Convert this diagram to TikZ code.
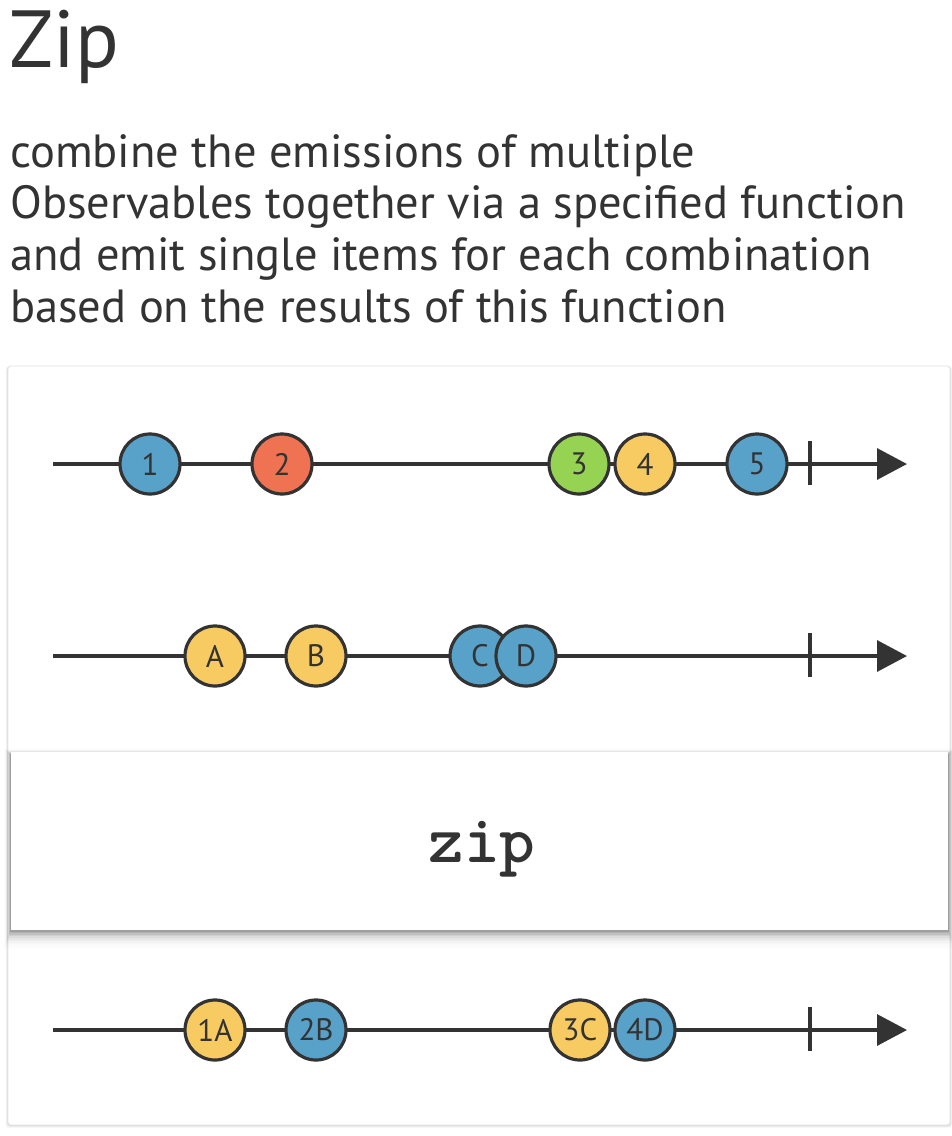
\documentclass[tikz,border=0pt]{standalone}
\usepackage{fontspec}
\setmainfont{PT Sans}
\usetikzlibrary{arrows.meta}
\definecolor{ink}{HTML}{333333}
\definecolor{mblue}{HTML}{58A1C9}
\definecolor{mred}{HTML}{EF7252}
\definecolor{mgreen}{HTML}{97D352}
\definecolor{myellow}{HTML}{F7CB62}
\definecolor{cardedge}{HTML}{E4E4E4}
\tikzset{
  marble/.style={circle, draw=ink, line width=3.2pt, minimum size=60pt, inner sep=0pt,
    text=ink, font=\fontsize{31}{31}\selectfont},
  timeline/.style={draw=ink, line width=3.3pt, -{Triangle[length=30pt,width=31pt]}},
  endtick/.style={draw=ink, line width=3.3pt},
  bodytext/.style={anchor=base west, inner sep=0pt, text=ink},
}
\begin{document}
\begin{tikzpicture}[x=1pt,y=-1pt]
\useasboundingbox (0,0) rectangle (952,1136);
\fill[white] (0,0) rectangle (952,1136);
% title and description
\node[bodytext, font=\fontsize{81}{81}\selectfont] (title) at (9,67) {Zip};
\node[bodytext, font=\fontsize{46.5}{46.5}\selectfont] (l1) at (10,167) {combine the emissions of multiple};
\node[bodytext, font=\fontsize{46.5}{46.5}\selectfont] (l2) at (10,218) {Observables together via a specified function};
\node[bodytext, font=\fontsize{46.5}{46.5}\selectfont] (l3) at (10,270) {and emit single items for each combination};
\node[bodytext, font=\fontsize{46.5}{46.5}\selectfont] (l4) at (10,322) {based on the results of this function};
% card with soft shadow
\foreach \i/\o in {1/0.05,2/0.04,3/0.03,4/0.02}{
  \fill[black, opacity=\o, rounded corners=3pt] (8-\i*0.6,366-\i*0.3+1) rectangle (950+\i*0.6,1125+\i*0.8);
}
\node[draw=cardedge, line width=0.8pt, fill=white, rounded corners=3pt, inner sep=0pt,
  minimum width=942pt, minimum height=759pt] (card) at (479,745.5) {};
% row 1
\coordinate (s1) at (53,464);
\coordinate (e1) at (907,464);
\draw[timeline] (s1) -- (e1);
\coordinate (k1t) at (810,441);
\coordinate (k1b) at (810,485);
\draw[endtick] (k1t) -- (k1b);
\node[marble, fill=mblue] (m1) at (150,464) {1};
\node[marble, fill=mred] (m2) at (282,464) {2};
\node[marble, fill=mgreen] (m3) at (579,464) {3};
\node[marble, fill=myellow] (m4) at (645,464) {4};
\node[marble, fill=mblue] (m5) at (757,464) {5};
% row 2
\coordinate (s2) at (53,656);
\coordinate (e2) at (907,656);
\draw[timeline] (s2) -- (e2);
\coordinate (k2t) at (810,633);
\coordinate (k2b) at (810,677);
\draw[endtick] (k2t) -- (k2b);
\node[marble, fill=myellow] (ma) at (215,656) {A};
\node[marble, fill=myellow] (mb) at (316,656) {B};
\node[marble, fill=mblue] (mc) at (480,656) {C};
\node[marble, fill=mblue] (md) at (526,656) {D};
% zip operator box with shadow
\foreach \i/\o in {1/0.10,2/0.08,3/0.065,4/0.05,5/0.04,6/0.03,7/0.02,8/0.015,9/0.01,10/0.008,11/0.006,12/0.005}{
  \fill[black, opacity=\o] (11-\i*0.6,752-\i*0.5+2) rectangle (948+\i*0.6,930+\i*1.6);
}
\node[fill=white, inner sep=0pt, minimum width=937pt, minimum height=178pt] (zipbox) at (479.5,841) {};
\node[text=ink, inner sep=0pt, anchor=base, font=\ttfamily\bfseries\fontsize{68}{68}\selectfont] (ziplabel) at (482,862) {zip};
% row 3
\coordinate (s3) at (53,1030);
\coordinate (e3) at (907,1030);
\draw[timeline] (s3) -- (e3);
\coordinate (k3t) at (810,1007);
\coordinate (k3b) at (810,1051);
\draw[endtick] (k3t) -- (k3b);
\node[marble, fill=myellow] (r1) at (215,1030) {1A};
\node[marble, fill=mblue] (r2) at (316,1030) {2B};
\node[marble, fill=myellow] (r3) at (580,1030) {3C};
\node[marble, fill=mblue] (r4) at (645,1030) {4D};
\end{tikzpicture}
\end{document}
